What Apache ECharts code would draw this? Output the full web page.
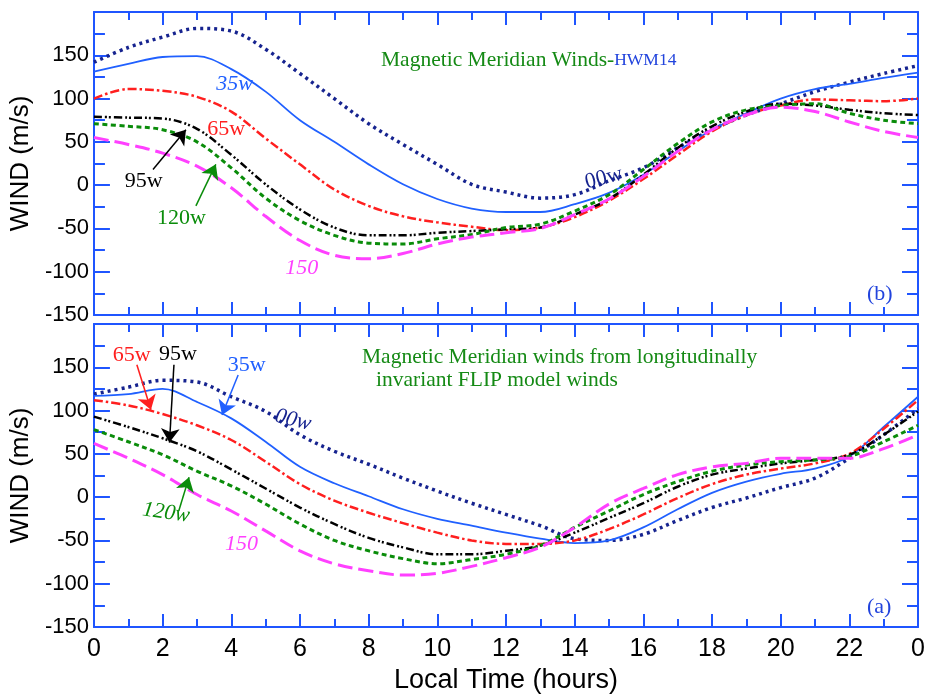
<!DOCTYPE html>
<html>
<head>
<meta charset="utf-8">
<script src="https://cdn.jsdelivr.net/npm/echarts@6/dist/echarts.min.js"></script>
<style>
html, body { margin: 0; padding: 0; background: #fff; }
#main { width: 930px; height: 696px; }
</style>
</head>
<body>
<div id="main"></div>
<script>
var chart = echarts.init(document.getElementById('main'));

// local time, hours 0..24
var hours = [0,1,2,3,4,5,6,7,8,9,10,11,12,13,14,15,16,17,18,19,20,21,22,23,24];

// panel (b): HWM14 magnetic meridian winds, m/s
var hwm00 = [142,159,171,181,178,157,129,100,71,47,24,1,-8,-15,-11,5,20,43,64,81,94,108,119,129,138];
var hwm35 = [131,140,148,149,134,108,75,50,24,1,-16,-27,-31,-31,-22,-9,12,39,64,83,100,111,117,124,130];
var hwm65 = [100,111,109,102,85,54,24,-5,-24,-36,-43,-48,-52,-49,-37,-18,7,35,62,81,92,99,98,97,100];
var hwm95 = [79,78,77,65,35,1,-28,-49,-58,-58,-55,-53,-51,-49,-34,-16,12,43,68,85,94,92,87,83,81];
var hwm120 = [71,68,64,50,20,-15,-41,-58,-67,-68,-62,-57,-49,-45,-30,-11,18,48,73,87,92,94,83,75,71];
var hwm150 = [55,47,37,22,-3,-36,-64,-81,-85,-79,-68,-60,-55,-50,-34,-16,10,39,64,81,90,85,73,62,55];

// panel (a): from longitudinally invariant FLIP model winds, m/s
var flip00 = [119,127,135,133,116,99,72,53,38,22,7,-7,-20,-33,-48,-50,-43,-27,-12,-1,11,22,45,72,102];
var flip35 = [117,119,125,110,91,64,35,16,1,-14,-25,-33,-41,-48,-53,-50,-35,-14,5,18,27,33,47,81,116];
var flip65 = [112,106,96,83,66,41,15,-4,-18,-30,-41,-50,-54,-54,-50,-37,-20,-1,15,26,33,39,50,79,112];
var flip95 = [93,81,68,53,32,10,-12,-31,-47,-58,-66,-66,-62,-56,-41,-24,-7,12,26,33,39,43,49,72,99];
var flip120 = [78,64,49,30,13,-8,-31,-50,-62,-71,-77,-72,-66,-56,-35,-16,3,18,30,37,41,43,47,64,83];
var flip150 = [62,45,26,3,-16,-39,-62,-77,-85,-90,-88,-80,-70,-58,-35,-8,10,26,35,39,45,45,45,56,72];

var frameBlue = '#1f55ff';
var serif = '"Liberation Serif", "Times New Roman", serif';
var sans = '"Liberation Sans", Arial, sans-serif';

var styles = {
    w00: {color: '#16238f', width: 3.5, type: [3, 4]},
    w35: {color: '#2060ff', width: 1.8, type: 'solid'},
    w65: {color: '#ff1f1f', width: 2.5, type: [9, 3, 2.5, 3]},
    w95: {color: '#000000', width: 2.5, type: [8, 3, 2, 2, 2, 3]},
    w120: {color: '#0a8c0a', width: 3, type: [5, 3.5]},
    w150: {color: '#ff40ff', width: 3, type: [15, 6]}
};

function pairs(vals) {
    return hours.map(function (h, i) { return [h, vals[i]]; });
}

function label(txt, coord, color, extra) {
    var l = {show: true, position: 'inside', formatter: txt, color: color,
        fontFamily: serif, fontSize: 22};
    for (var k in extra) l[k] = extra[k];
    return {coord: coord, symbolSize: 1, itemStyle: {color: 'rgba(0,0,0,0)'}, label: l};
}

function arrow(from, to) {
    return [{coord: from}, {coord: to}];
}

// panel 0 = (b) top, panel 1 = (a) bottom; each panel has a bottom/left axis pair at 2*panel
function line(panel, name, vals, key, labels, arrows) {
    var c = styles[key].color;
    var s = {
        name: name, type: 'line', xAxisIndex: panel * 2, yAxisIndex: panel * 2,
        data: pairs(vals), smooth: 0.35, showSymbol: false, symbol: 'none',
        lineStyle: styles[key], color: c, z: 3
    };
    if (labels) s.markPoint = {symbol: 'circle', silent: true, data: labels, animation: false};
    if (arrows) s.markLine = {
        symbol: ['none', 'arrow'], symbolSize: 14, silent: true, animation: false,
        label: {show: false}, itemStyle: {color: c},
        lineStyle: {type: 'solid', width: 1.5, color: c},
        emphasis: {disabled: true},
        data: arrows
    };
    return s;
}

function xAx(grid, pos, showLabels) {
    var a = {
        type: 'value', gridIndex: grid, position: pos, min: 0, max: 24, interval: 2,
        axisLine: {show: true, onZero: false, lineStyle: {color: frameBlue, width: 2}},
        axisTick: {show: true, inside: true, length: 13, lineStyle: {color: frameBlue, width: 2}},
        minorTick: {show: true, splitNumber: 2, length: 8, lineStyle: {color: frameBlue, width: 2}},
        splitLine: {show: false},
        axisLabel: {show: showLabels, color: '#000', fontFamily: sans, fontSize: 25, margin: 10,
            formatter: function (v) { return String(v % 24); }}
    };
    if (showLabels) {
        a.name = 'Local Time (hours)';
        a.nameLocation = 'middle';
        a.nameGap = 40;
        a.nameTextStyle = {color: '#000', fontFamily: sans, fontSize: 27};
    }
    return a;
}

function yAx(grid, pos, showLabels) {
    var a = {
        type: 'value', gridIndex: grid, position: pos, min: -150, max: 200, interval: 50,
        axisLine: {show: true, onZero: false, lineStyle: {color: frameBlue, width: 2}},
        axisTick: {show: true, inside: true, length: 16, lineStyle: {color: frameBlue, width: 2}},
        minorTick: {show: true, splitNumber: 2, length: 11, lineStyle: {color: frameBlue, width: 2}},
        splitLine: {show: false},
        axisLabel: {show: showLabels, color: '#000', fontFamily: sans, fontSize: 22, margin: 5,
            padding: [0, 0, 11, 0],
            formatter: function (v) { return v === 200 ? '' : String(v); }}
    };
    if (showLabels) {
        a.name = 'WIND (m/s)';
        a.nameLocation = 'middle';
        a.nameGap = 54;
        a.nameTextStyle = {color: '#000', fontFamily: sans, fontSize: 26};
    }
    return a;
}

var option = {
    backgroundColor: '#fff',
    animation: false,
    grid: [
        {left: 93, right: 12, top: 12, height: 303},
        {left: 93, right: 12, top: 324, height: 303}
    ],
    xAxis: [xAx(0, 'bottom', false), xAx(0, 'top', false), xAx(1, 'bottom', true), xAx(1, 'top', false)],
    yAxis: [yAx(0, 'left', true), yAx(0, 'right', false), yAx(1, 'left', true), yAx(1, 'right', false)],
    title: [
        {text: '{g|Magnetic Meridian Winds-}{b|HWM14}', left: 376, top: 44,
            textStyle: {fontWeight: 'normal', rich: {
                g: {color: '#158a15', fontFamily: serif, fontSize: 21.5, fontWeight: 'normal'},
                b: {color: '#2244dd', fontFamily: serif, fontSize: 17.5, fontWeight: 'normal'}
            }}},
        {text: 'Magnetic Meridian winds from longitudinally', left: 357, top: 341,
            textStyle: {color: '#158a15', fontFamily: serif, fontSize: 21.5, fontWeight: 'normal'}},
        {text: 'invariant FLIP model winds', left: 371, top: 364,
            textStyle: {color: '#158a15', fontFamily: serif, fontSize: 21.5, fontWeight: 'normal'}},
        {text: '(b)', left: 862, top: 278,
            textStyle: {color: '#2244dd', fontFamily: serif, fontSize: 22, fontWeight: 'normal'}},
        {text: '(a)', left: 862, top: 591,
            textStyle: {color: '#2244dd', fontFamily: serif, fontSize: 22, fontWeight: 'normal'}}
    ],
    series: [
        // panel (b)
        line(0, '00w', hwm00, 'w00', [label('00w', [14.85, 8], '#16238f', {rotate: 14})]),
        line(0, '35w', hwm35, 'w35', [label('35w', [4.1, 117], '#2060ff', {fontStyle: 'italic'})]),
        line(0, '65w', hwm65, 'w65', [label('65w', [3.85, 65], '#ff1f1f')]),
        line(0, '95w', hwm95, 'w95', [label('95w', [1.45, 5], '#000')],
            [arrow([1.72, 18], [2.68, 64])]),
        line(0, '120w', hwm120, 'w120', [label('120w', [2.55, -38], '#0a8c0a')],
            [arrow([2.97, -24], [3.55, 24])]),
        line(0, '150', hwm150, 'w150', [label('150', [6.05, -96], '#ff40ff', {fontStyle: 'italic'})]),
        // panel (a)
        line(1, '00w', flip00, 'w00', [label('00w', [5.8, 89], '#16238f', {fontStyle: 'italic', rotate: -14})]),
        line(1, '35w', flip35, 'w35', [label('35w', [4.45, 152], '#2060ff')],
            [arrow([4.2, 141], [3.73, 95])]),
        line(1, '65w', flip65, 'w65', [label('65w', [1.1, 164], '#ff1f1f')],
            [arrow([1.25, 153], [1.66, 101])]),
        line(1, '95w', flip95, 'w95', [label('95w', [2.45, 165], '#000')],
            [arrow([2.33, 153], [2.2, 63])]),
        line(1, '120w', flip120, 'w120', [label('120w', [2.1, -18], '#0a8c0a', {fontStyle: 'italic', rotate: -8})],
            [arrow([2.47, -16], [2.77, 23])]),
        line(1, '150', flip150, 'w150', [label('150', [4.3, -54], '#ff40ff', {fontStyle: 'italic'})])
    ]
};

chart.setOption(option);
</script>
</body>
</html>
